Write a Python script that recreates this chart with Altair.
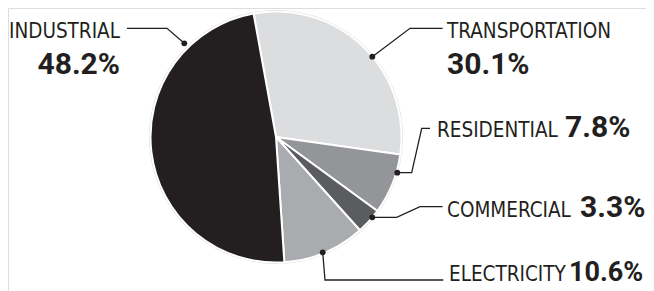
import math
import altair as alt
import pandas as pd

# ---- data ----
sectors = ["TRANSPORTATION", "RESIDENTIAL", "COMMERCIAL", "ELECTRICITY", "INDUSTRIAL"]
shares = [30.1, 7.8, 3.3, 10.6, 48.2]
value_labels = ["30.1%", "7.8%", "3.3%", "10.6%", "48.2%"]
colors = ["#dcdddf", "#939598", "#5b5c5e", "#a9abae", "#231f20"]

# ---- layout (pixel positions inside the chart) ----
W, H = 638, 283
CX, CY, R = 268, 129, 125.5
START = -10.3 * math.pi / 180
NAME_FONT = "DejaVu Sans Condensed, Liberation Sans Narrow, sans-serif"
VALUE_FONT = "Roboto, Liberation Sans, sans-serif"

pie_df = pd.DataFrame({"sector": sectors, "share": shares, "order": list(range(len(sectors)))})

pie = alt.Chart(pie_df).mark_arc(radius=R, stroke="white", strokeWidth=2).encode(
    theta=alt.Theta("share:Q", stack=True, scale=alt.Scale(range=[START, START + 2 * math.pi])),
    order=alt.Order("order:Q"),
    color=alt.Color("sector:N", scale=alt.Scale(domain=sectors, range=colors), legend=None),
    x=alt.value(CX),
    y=alt.value(CY),
)

rim = alt.Chart(pd.DataFrame({"a": [1]})).mark_arc(
    radius=R + 1.5, radius2=R + 0.5, fill="#d9d9d9"
).encode(theta=alt.value(0), theta2=alt.value(2 * math.pi), x=alt.value(CX), y=alt.value(CY))

# leader lines: polylines ending at a dot on the pie edge
leaders = {
    "INDUSTRIAL": [(119, 20.3), (159, 20.3), (176.3, 35.3)],
    "TRANSPORTATION": [(434.7, 20.3), (402, 20.3), (364.3, 48.7)],
    "RESIDENTIAL": [(422, 120.3), (413.7, 120.3), (403.7, 164.7), (389.3, 164.7)],
    "COMMERCIAL": [(434.7, 198.7), (412, 198.7), (388.7, 209.3), (364.3, 209.3)],
    "ELECTRICITY": [(435.3, 272), (317, 272), (314.7, 244.3)],
}
rows = []
for name, pts in leaders.items():
    for i, (x, y) in enumerate(pts):
        rows.append({"g": name, "i": i, "x": x, "y": y, "end": i == len(pts) - 1})
ld = pd.DataFrame(rows)

lines = alt.Chart(ld).mark_line(color="#231f20", strokeWidth=1.3).encode(
    x=alt.X("x:Q", scale=None), y=alt.Y("y:Q", scale=None), detail="g:N", order="i:Q"
)
dots = alt.Chart(ld[ld["end"]]).mark_point(filled=True, color="#231f20", size=34, opacity=1).encode(
    x=alt.X("x:Q", scale=None), y=alt.Y("y:Q", scale=None)
)

# text labels: (x, y, align, font size)
name_pos = {
    "INDUSTRIAL": (112, 30, "right", 20.5),
    "TRANSPORTATION": (439, 30, "left", 20.5),
    "RESIDENTIAL": (429, 129, "left", 20.5),
    "COMMERCIAL": (439, 209, "left", 20.5),
    "ELECTRICITY": (441, 273, "left", 20.5),
}
val_pos = {
    "INDUSTRIAL": (112, 66, "right", 30),
    "TRANSPORTATION": (439, 66, "left", 30),
    "RESIDENTIAL": (557, 129, "left", 30),
    "COMMERCIAL": (572, 209, "left", 30),
    "ELECTRICITY": (561, 273, "left", 27),
}
lab_rows = []
for s, v in zip(sectors, value_labels):
    x, y, a, fs = name_pos[s]
    lab_rows.append({"t": s, "x": x, "y": y, "a": a, "fs": fs, "kind": "name"})
    x, y, a, fs = val_pos[s]
    lab_rows.append({"t": v, "x": x, "y": y, "a": a, "fs": fs, "kind": "value"})
lab = pd.DataFrame(lab_rows)

texts = []
for kind, font, weight in [("name", NAME_FONT, "normal"), ("value", VALUE_FONT, "bold")]:
    for align in ["left", "right"]:
        sub = lab[(lab["kind"] == kind) & (lab["a"] == align)]
        if len(sub) == 0:
            continue
        texts.append(
            alt.Chart(sub).mark_text(
                font=font, fontWeight=weight, align=align,
                baseline="alphabetic", color="#231f20"
            ).encode(
                x=alt.X("x:Q", scale=None), y=alt.Y("y:Q", scale=None), text="t:N",
                size=alt.Size("fs:Q", scale=None),
            )
        )

chart = alt.layer(rim, pie, lines, dots, *texts).properties(
    width=W, height=H, autosize=alt.AutoSizeParams(type="none"), padding=0
).configure_view(stroke=None).configure(background="white")

chart.save("out.html", embed_options={"renderer": "svg", "actions": False})
